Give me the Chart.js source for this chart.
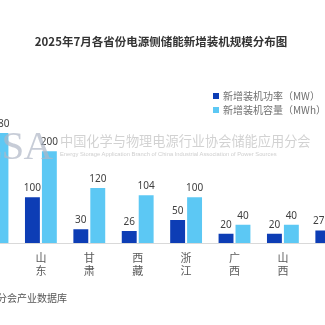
<!DOCTYPE html>
<html>
<head>
<meta charset="utf-8">
<script src="https://cdn.jsdelivr.net/npm/chart.js@4"></script>
<style>
  html, body { margin: 0; padding: 0; background: #fff; }
  #page {
    position: relative; width: 325px; height: 325px; overflow: hidden;
    font-family: "Noto Sans CJK SC", "Noto Sans", sans-serif;
  }
  #chartBox { position: absolute; left: -40px; top: 0; width: 410px; height: 325px; }
  .title {
    position: absolute; left: 0; width: 322px; top: 33px; text-align: center;
    font-size: 11.5px; font-weight: bold; color: #333; white-space: nowrap;
  }
  .legend { position: absolute; left: 213px; top: 89px; font-size: 10px; color: #707070; }
  .legend div { height: 14px; line-height: 14px; white-space: nowrap; }
  .legend span {
    display: inline-block; width: 6px; height: 6px; margin-right: 4px; vertical-align: 1px;
  }
  .wm-big {
    position: absolute; right: 273px; top: 121px; font-family: "Liberation Serif", serif;
    font-size: 41px; color: rgba(175, 182, 198, 0.7); white-space: nowrap; letter-spacing: -1px;
  }
  .wm-cn {
    position: absolute; left: 60px; top: 131px; font-size: 13.2px;
    color: rgba(180, 180, 180, 0.6); white-space: nowrap;
  }
  .wm-en {
    position: absolute; left: 60px; top: 151px; font-size: 5.8px; font-family: "Liberation Sans", sans-serif;
    color: rgba(180, 180, 180, 0.65); white-space: nowrap;
  }
  .source {
    position: absolute; right: 258px; top: 290px; font-size: 10px; color: #555; white-space: nowrap;
  }
</style>
</head>
<body>
<div id="page">
  <div id="chartBox"><canvas id="bars" width="410" height="325"></canvas></div>
  <div class="title">2025年7月各省份电源侧储能新增装机规模分布图</div>
  <div class="legend">
    <div><span style="background:#0d3db5"></span>新增装机功率（MW）</div>
    <div><span style="background:#5cc8f4"></span>新增装机容量（MWh）</div>
  </div>
  <div class="wm-big">CNESA</div>
  <div class="wm-cn">中国化学与物理电源行业协会储能应用分会</div>
  <div class="wm-en">Energy Storage Application Branch of China Industrial Association of Power Sources</div>
  <div class="source">数据来源：中国化学与物理电源行业协会储能应用分会产业数据库</div>
</div>
<script>
const provinces = ['新疆', '山东', '甘肃', '西藏', '浙江', '广西', '山西', '宁夏'];
const powerMW = [140, 100, 30, 26, 50, 20, 20, 27.5];
const capacityMWh = [280, 200, 120, 104, 100, 40, 40, 55];
const seriesNames = ['新增装机功率（MW）', '新增装机容量（MWh）'];

// value labels above each bar
const barLabels = {
    id: 'barLabels',
    afterDatasetsDraw(chart) {
        const ctx = chart.ctx;
        const top = chart.chartArea.top;
        ctx.save();
        ctx.font = '10px "Noto Sans", sans-serif';
        ctx.fillStyle = '#404040';
        ctx.textAlign = 'center';
        ctx.textBaseline = 'bottom';
        chart.data.datasets.forEach((ds, i) => {
            chart.getDatasetMeta(i).data.forEach((bar, j) => {
                const y = Math.max(bar.y, top);
                ctx.fillText(String(ds.data[j]), bar.x, y - 4);
            });
        });
        ctx.restore();
    }
};

new Chart(document.getElementById('bars'), {
    type: 'bar',
    data: {
        labels: provinces.map(p => p.split('')),
        datasets: [
            {
                label: seriesNames[0],
                data: powerMW,
                backgroundColor: '#0d3db5'
            },
            {
                label: seriesNames[1],
                data: capacityMWh,
                backgroundColor: '#5cc8f4'
            }
        ]
    },
    options: {
        responsive: false,
        animation: false,
        layout: {
            padding: { left: 8.3, right: 14.5, top: 133, bottom: 39.6 }
        },
        datasets: {
            bar: { categoryPercentage: 0.70, barPercentage: 0.88 }
        },
        scales: {
            x: {
                grid: { display: false, drawTicks: false },
                border: { display: true, color: '#d9d9d9', width: 1 },
                ticks: {
                    color: '#595959',
                    padding: 8,
                    font: { size: 11, family: "'Noto Sans CJK SC', sans-serif", lineHeight: 1.2 },
                    maxRotation: 0,
                    autoSkip: false
                }
            },
            y: {
                display: false,
                min: 0,
                max: 240
            }
        },
        plugins: {
            legend: { display: false },
            tooltip: { enabled: false }
        }
    },
    plugins: [barLabels]
});
</script>
</body>
</html>
